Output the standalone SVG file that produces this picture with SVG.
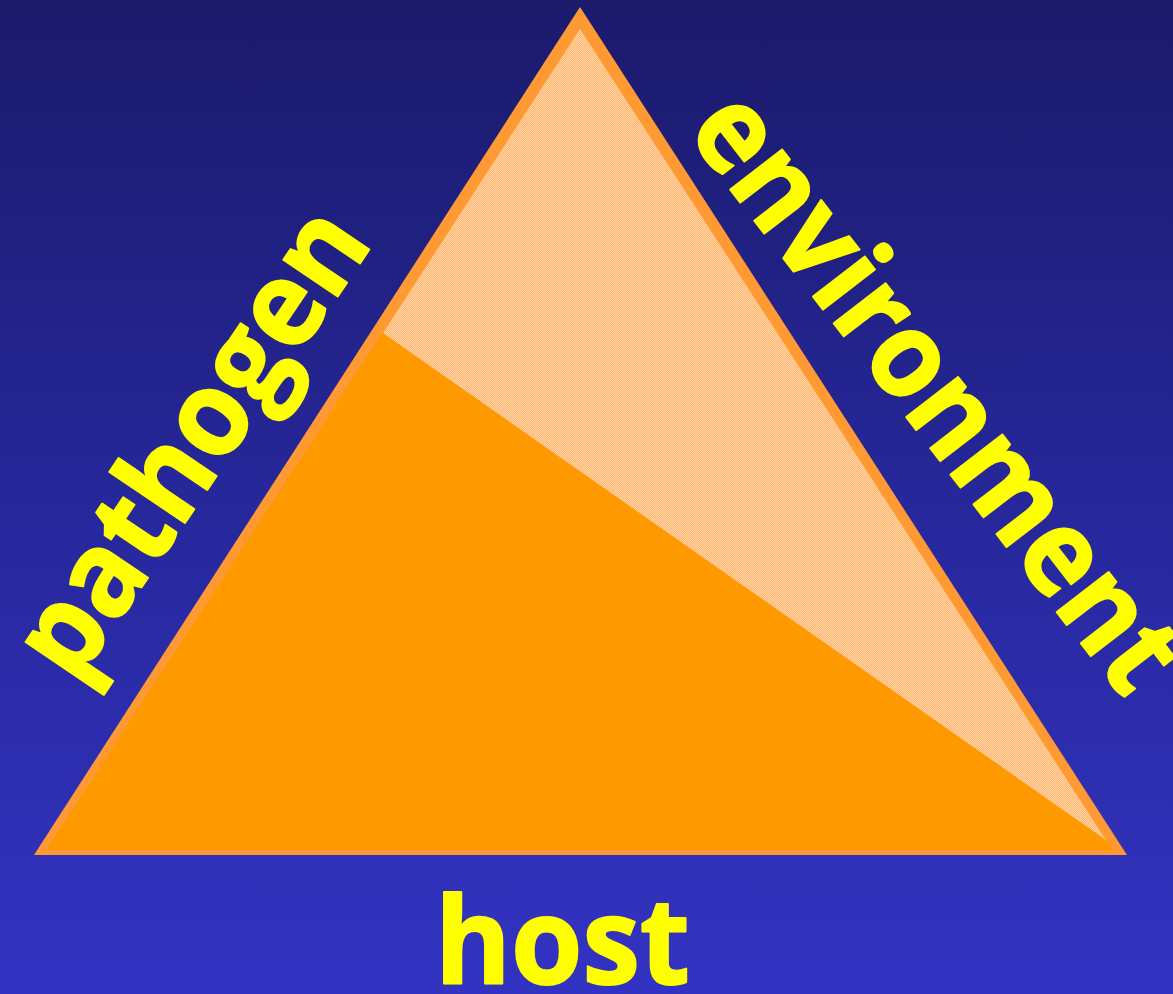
<svg xmlns="http://www.w3.org/2000/svg" width="1173" height="994" viewBox="0 0 1173 994">
  <defs>
    <linearGradient id="bg" x1="0" y1="0" x2="0" y2="1">
      <stop offset="0" stop-color="#1b1a6b"/>
      <stop offset="0.5" stop-color="#26279a"/>
      <stop offset="1" stop-color="#3333c3"/>
    </linearGradient>
    <!-- light dither dots laid over the peach wedge -->
    <pattern id="dots" width="2" height="2" patternUnits="userSpaceOnUse">
      <rect width="1" height="1" fill="#ffe0c0"/>
      <rect x="1" y="1" width="1" height="1" fill="#ffe0c0"/>
    </pattern>
    <style>
      .label { font-family: "Open Sans", "DejaVu Sans", sans-serif; font-weight: 700; font-size: 120px;
               fill: #ffff00; stroke: #ffff00; stroke-width: 2; stroke-linejoin: round; }
    </style>
  </defs>

  <rect width="1173" height="994" fill="url(#bg)"/>

  <g id="triangle">
    <polygon points="580,7 34,855 1127,855" fill="#ff9933"/>
    <polygon points="580,29 46,850 1113,850" fill="#ff9900"/>
    <polygon points="580,29 383,333 1106,840" fill="#ffbb78"/>
    <polygon points="580,29 383,333 1106,840" fill="url(#dots)" opacity="0.55"/>
  </g>

  <g id="pathogen">
    <text class="label" transform="translate(75,686) rotate(-56)" textLength="535" lengthAdjust="spacingAndGlyphs">pathogen</text>
  </g>

  <g id="environment">
    <text class="label" transform="translate(685,131) rotate(52.3)" textLength="720" lengthAdjust="spacingAndGlyphs">environment</text>
  </g>

  <g id="host">
    <text class="label" x="435" y="984" textLength="255" lengthAdjust="spacingAndGlyphs">host</text>
  </g>
</svg>
